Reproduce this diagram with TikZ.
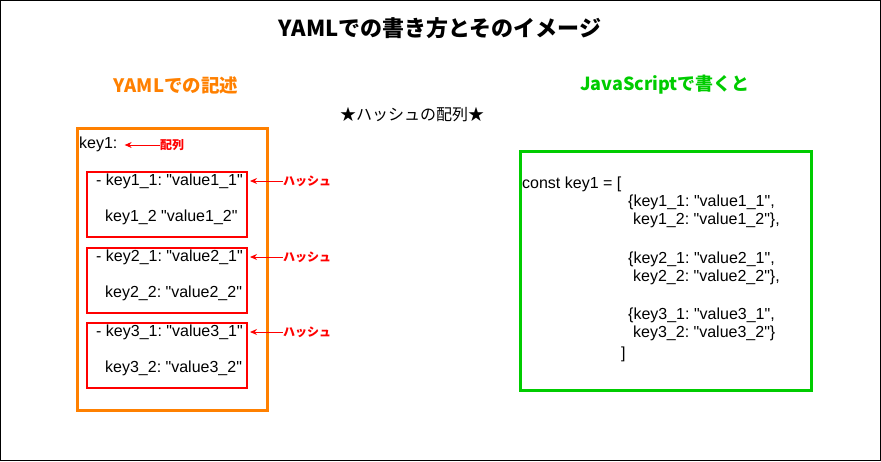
\documentclass[tikz,border=0pt]{standalone}
\usepackage{fontspec}
\setmainfont{Liberation Sans}
\newfontfamily\jpfont{Noto Sans CJK JP}
\usetikzlibrary{arrows.meta, positioning}
\definecolor{yamlcolor}{RGB}{255,128,0}
\definecolor{hashcolor}{RGB}{255,0,0}
\definecolor{jscolor}{RGB}{0,204,0}
\newcommand\dq{\textquotedbl}

\begin{document}
\begin{tikzpicture}[x=1pt, y=-1pt,
  code/.style={font=\fontsize{16}{18}\selectfont\frenchspacing, inner sep=0pt, text height=11.5pt, text depth=4pt, anchor=west},
  note/.style={font=\jpfont\bfseries\fontsize{12}{14}\selectfont, text=hashcolor, inner sep=0pt},
  hashbox/.style={draw=hashcolor, line width=2pt, minimum width=160pt, minimum height=65pt, inner sep=0pt},
  pointer/.style={draw=hashcolor, -{Stealth[length=7pt, width=6pt]}, line width=1pt}]
\useasboundingbox (0,0) rectangle (881,461);
\draw[line width=1pt] (0.5,0.5) rectangle (880.5,460.5);

% titles
\node[font=\jpfont\bfseries\fontsize{22}{26}\selectfont] (title) at (440,28) {YAMLでの書き方とそのイメージ};
\node[font=\jpfont\bfseries\fontsize{18.5}{22}\selectfont, text=yamlcolor] (yamlhead) at (176,85) {YAMLでの記述};
\node[font=\jpfont\bfseries\fontsize{18}{22}\selectfont, text=jscolor] (jshead) at (665,85) {JavaScriptで書くと};
\node[font=\jpfont\fontsize{16}{19}\selectfont] (star) at (412,115) {★ハッシュの配列★};

% YAML side
\node[draw=yamlcolor, line width=3pt, minimum width=190pt, minimum height=282pt] (yaml) at (172,269) {};
\node[code] (key) at (79,145) {key1:};
\node[note] (arr) at (172,145) {配列};
\draw[pointer, shorten >=7pt] (arr.west) -- (key.east);

\foreach \i/\y/\s in {1/204.5/{}, 2/280.5/:, 3/355.5/:} {
  \node[hashbox] (h\i) at (167,\y) {};
  \node[code] (h\i a) at (96,\y-22.5) {- key\i\_1: \dq value\i\_1\dq};
  \node[code] (h\i b) at (105,\y+13.5) {key\i\_2\s{} \dq value\i\_2\dq};
  \node[note] (lab\i) at (307,\y-23.5) {ハッシュ};
  \draw[pointer, shorten >=2pt] (lab\i.west) -- (lab\i.west -| h\i.east);
}

% JavaScript side
\node[draw=jscolor, line width=3pt, minimum width=291pt, minimum height=239pt] (js) at (665.5,270.5) {};
\node[code] (const) at (522,185) {const key1 = [};
\foreach \n/\x/\y/\t in {
  1/628/203/{\{key1\_1: \dq value1\_1\dq,},
  2/633/221/{key1\_2: \dq value1\_2\dq\},},
  3/628/260/{\{key2\_1: \dq value2\_1\dq,},
  4/633/278/{key2\_2: \dq value2\_2\dq\},},
  5/628/316/{\{key3\_1: \dq value3\_1\dq,},
  6/633/334/{key3\_2: \dq value3\_2\dq\}},
  7/621/355/{]}} {
  \node[code] (obj\n) at (\x,\y) {\t};
}
\end{tikzpicture}
\end{document}
